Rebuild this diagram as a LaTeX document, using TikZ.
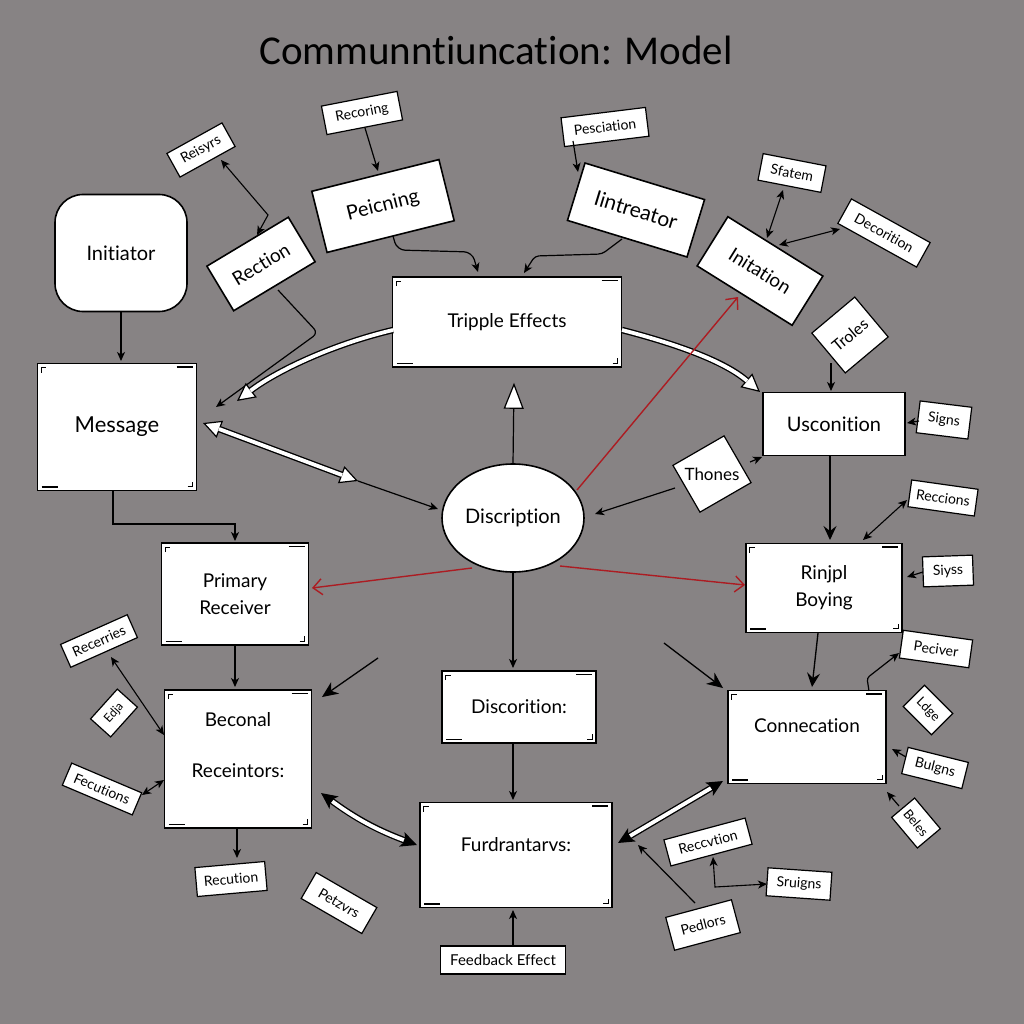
\documentclass[tikz,border=0pt]{standalone}
\usepackage{fontspec}
\setmainfont[Ligatures=NoCommon]{Lato}
\newfontfamily\titlef[Ligatures=NoCommon]{Carlito}
\usetikzlibrary{arrows.meta,shapes.geometric,calc}
\definecolor{bg}{RGB}{135,131,132}
\definecolor{redc}{RGB}{172,28,34}
\tikzset{
  wtip/.tip={Triangle[length=18pt,width=18pt,fill=white,line width=1.2pt]},
  btip/.tip={Stealth[length=16pt,width=15pt,inset=4pt]},
  stip/.tip={Stealth[length=9pt,width=8pt,inset=2.5pt]},
  rtip/.tip={Straight Barb[length=9pt,width=16pt,line width=1.4pt]},
  box/.style={draw=black, fill=white, line width=1.6pt, inner sep=0pt, align=center,
    font=\fontsize{20}{24}\selectfont},
  marks/.style={path picture={
    \draw[line width=1.6pt] ([xshift=-20pt,yshift=-3.5pt]path picture bounding box.north east) -- ++(16pt,0);
    \draw[line width=1.4pt] ([xshift=4pt,yshift=3.5pt]path picture bounding box.south west) -- ++(16pt,0);
    \draw[line width=0.8pt] ([xshift=3.5pt,yshift=-9pt]path picture bounding box.north west) -- ++(0,5pt) -- ++(5pt,0);
    \draw[line width=0.8pt] ([xshift=-9pt,yshift=4pt]path picture bounding box.south east) -- ++(5pt,0) -- ++(0,5pt);}},
  lbl/.style={draw=black, fill=white, line width=1.2pt, inner sep=0pt,
    font=\fontsize{14}{16}\selectfont},
  arr/.style={line width=1.2pt, -stip},
  darr/.style={line width=1.1pt, stip-stip},
  redarr/.style={draw=redc, line width=1.4pt, -rtip},
  holo/.style={line width=6.5pt, black},
  holi/.style={line width=3.8pt, white},
}
\begin{document}
\begin{tikzpicture}[x=1pt,y=-1pt]
\useasboundingbox[fill=bg] (0,0) rectangle (1024,1024);

\node (title) at (496,50) {\titlef\fontsize{41}{45}\selectfont Communntiuncation: Model};

% main boxes
\node[box, rounded corners=28pt, minimum width=132pt, minimum height=117pt] (init) at (121,253) {Initiator};
\node[box, marks, minimum width=159pt, minimum height=127pt, font=\fontsize{22}{26}\selectfont] (msg) at (117,427) {Message};
\node[box, marks, minimum width=229pt, minimum height=90pt, font=\fontsize{19}{23}\selectfont] (trip) at (507,322) {Tripple Effects};
\node[box, rotate=14, minimum width=131pt, minimum height=63pt] (peic) at (383,206) {Peicning};
\node[box, rotate=31, minimum width=95pt, minimum height=52pt, font=\fontsize{19}{23}\selectfont] (rect) at (261,264) {Rection};
\node[box, rotate=-17, minimum width=125pt, minimum height=60pt, font=\fontsize{21}{25}\selectfont] (intr) at (636,210) {Iintreator};
\node[box, rotate=-32, minimum width=112pt, minimum height=58pt, font=\fontsize{19}{23}\selectfont] (inita) at (760,271) {Initation};
\node[box, minimum width=142pt, minimum height=63pt] (usc) at (834,424) {Usconition};
\node[box, ellipse, minimum width=142pt, minimum height=108pt, font=\fontsize{20}{24}\selectfont] (disc) at (513,518) {Discription};
\node[box, marks, minimum width=156pt, minimum height=89pt, font=\fontsize{19}{27}\selectfont] (rinj) at (824,588) {Rinjpl\\Boying};
\node[box, marks, minimum width=147pt, minimum height=102pt, font=\fontsize{19}{27}\selectfont] (prim) at (235,594) {Primary\\Receiver};
\node[box, marks, minimum width=154pt, minimum height=72pt, font=\fontsize{19}{23}\selectfont] (disco) at (519,707) {Discorition:};
\node[box, marks, minimum width=147pt, minimum height=138pt,
  label={[yshift=14pt, align=center, font=\fontsize{19}{23}\selectfont]center:Beconal\\[28pt]Receintors:}] (becon) at (238,759) {};
\node[box, marks, minimum width=158pt, minimum height=93pt,
  label={[yshift=11pt, font=\fontsize{19}{23}\selectfont]center:Connecation}] (conn) at (807,737) {};
\node[box, marks, minimum width=192pt, minimum height=105pt,
  label={[yshift=10pt, font=\fontsize{19}{23}\selectfont]center:Furdrantarvs:}] (furd) at (516,855) {};

% small labels
\node[lbl, rotate=11, minimum width=77pt, minimum height=29pt] (recor) at (362,113) {Recoring};
\node[lbl, rotate=29, minimum width=63pt, minimum height=27pt] (reis) at (201,150) {Reisyrs};
\node[lbl, rotate=7, minimum width=85pt, minimum height=29pt] (pesc) at (605,127) {Pesciation};
\node[lbl, rotate=-11, minimum width=64pt, minimum height=27pt] (sfat) at (792,173) {Sfatem};
\node[lbl, rotate=-29, minimum width=90pt, minimum height=28pt] (deco) at (884,233) {Decorition};
\node[lbl, rotate=40, minimum width=56pt, minimum height=52pt, font=\fontsize{16}{18}\selectfont] (trol) at (850,335) {Troles};
\node[lbl, rotate=-7, minimum width=52pt, minimum height=32pt] (signs) at (944,420) {Signs};
\node[lbl, rotate=30, minimum width=59pt, minimum height=54pt, font=\fontsize{17}{19}\selectfont] (thon) at (712,474) {\rotatebox{-30}{Thones}};
\node[lbl, rotate=-8, minimum width=67pt, minimum height=27pt] (recc) at (943,498) {Reccions};
\node[lbl, rotate=2, minimum width=50pt, minimum height=30pt] (siyss) at (948,571) {Siyss};
\node[lbl, rotate=24, minimum width=73pt, minimum height=25pt] (recer) at (99,641) {Recerries};
\node[lbl, rotate=48, minimum width=40pt, minimum height=27pt, font=\fontsize{12}{14}\selectfont] (edja) at (114,713) {Edja};
\node[lbl, rotate=-23, minimum width=76pt, minimum height=24pt] (fecu) at (102,789) {Fecutions};
\node[lbl, rotate=5, minimum width=70pt, minimum height=29pt] (recu) at (231,879) {Recution};
\node[lbl, rotate=-30, minimum width=70pt, minimum height=30pt] (petz) at (339,903) {Petzvrs};
\node[lbl, minimum width=125pt, minimum height=28pt, font=\fontsize{15}{17}\selectfont] (feed) at (503,960) {Feedback Effect};
\node[lbl, rotate=-8, minimum width=70pt, minimum height=28pt] (pecv) at (936,649) {Peciver};
\node[lbl, rotate=-45, minimum width=40pt, minimum height=30pt, font=\fontsize{13}{15}\selectfont] (ldge) at (928,710) {Ldge};
\node[lbl, rotate=-14, minimum width=62pt, minimum height=27pt] (bulg) at (935,768) {Bulgns};
\node[lbl, rotate=-50, minimum width=40pt, minimum height=30pt, font=\fontsize{13}{15}\selectfont] (bele) at (916,823) {Beles};
\node[lbl, rotate=15, minimum width=84pt, minimum height=27pt] (recv) at (708,842) {Reccvtion};
\node[lbl, rotate=-4, minimum width=64pt, minimum height=28pt] (srui) at (799,884) {Sruigns};
\node[lbl, rotate=15, minimum width=68pt, minimum height=34pt] (pedl) at (703,925) {Pedlors};

\coordinate (m1) at ($(disc)+(-155,-37)$);
\coordinate (up1) at ($(trip.south)+(7,15)$);

% black arrows
\draw[arr] ($(init)+(0,59)$) -- ($(msg)+(4,-66)$);
\draw[arr] ($(recor)+(3,15)$) -- ($(peic)+(-5,-35)$);
\draw[darr] ($(reis)+(20,10)$) -- ($(rect)+(7,-49)$) -- ($(rect)+(-4,-29)$);
\draw[arr, rounded corners=6pt] ($(rect)+(17,26)$) -- ($(rect)+(57,69)$) -- ($(msg)+(99,-20)$);
\draw[arr] (m1) -- ($(disc)+(-75,-9)$);
\draw[line width=1.2pt, -{Triangle[length=26pt,width=20pt,fill=white,line width=1.2pt]}] ($(disc)+(0,-54)$) -- (up1);
\draw[arr, rounded corners=8pt] ($(peic)+(10,30)$) -- ($(trip)+(-110,-72)$) -- ($(trip)+(-35,-70)$) -- ($(trip)+(-29,-50)$);
\draw[arr, rounded corners=4pt] ($(intr)+(-14,29)$) -- ($(trip)+(95,-68)$) -- ($(trip)+(28,-66)$) -- ($(trip)+(17,-49)$);
\draw[arr] ($(pesc)+(-32,14)$) -- ($(intr)+(-58,-38)$);
\draw[darr] ($(sfat)+(-9,17)$) -- ($(inita)+(7,-33)$);
\draw[darr] ($(deco)+(-44,-4)$) -- ($(inita)+(19,-26)$);
\draw[arr] ($(trol)+(-19,28)$) -- ($(usc)+(-3,-33)$);
\draw[arr] ($(signs)+(-25,1)$) -- ($(usc)+(73,-1)$);
\draw[arr] ($(thon)+(38,-12)$) -- ($(usc)+(-72,33)$);
\draw[arr] ($(thon)+(-37,14)$) -- ($(disc)+(82,-4)$);
\draw[line width=1.3pt, -{Stealth[length=14pt,width=13pt,inset=5pt]}] ($(usc)+(-4,32)$) -- ($(rinj)+(6,-48)$);
\draw[darr] ($(recc)+(-36,2)$) -- ($(rinj)+(39,-48)$);
\draw[arr] ($(siyss)+(-25,1)$) -- ($(rinj)+(83,-11)$);
\draw[arr] ($(msg)+(-4,63)$) |- ($(prim)+(0,-70)$) -- ($(prim)+(0,-53)$);
\draw[arr] ($(disc)+(0,54)$) -- ($(disco)+(-6,-39)$);
\draw[arr] ($(disco)+(-6,36)$) -- ($(furd)+(-3,-55)$);
\draw[arr] ($(prim)+(0,51)$) -- ($(becon)+(-3,-72)$);
\draw[line width=1.3pt, -{Stealth[length=16pt,width=14pt,inset=5pt]}] ($(becon)+(140,-101)$) -- ($(becon)+(84,-62)$);
\draw[line width=1.3pt, -{Stealth[length=16pt,width=14pt,inset=5pt]}] ($(conn)+(-143,-94)$) -- ($(conn)+(-84,-49)$);
\draw[line width=1.3pt, -{Stealth[length=14pt,width=13pt,inset=5pt]}] ($(rinj)+(-6,45)$) -- ($(conn)+(5,-50)$);
\draw[arr, rounded corners=3pt] ($(conn)+(62,-46)$) -- ($(conn)+(60,-59)$) -- ($(pecv)+(-37,4)$);
\draw[arr] ($(bulg)+(-29,-11)$) -- ($(conn)+(85,12)$);
\draw[arr] ($(bele)+(-17,-17)$) -- ($(conn)+(80,55)$);
\draw[arr] ($(pedl)+(-8,-22)$) -- ($(furd)+(122,-10)$);
\draw[darr] ($(recv)+(5,15)$) -- ($(srui)+(-84,3)$) -- ($(srui)+(-32,0)$);
\draw[arr] ($(feed)+(10,-14)$) -- ($(furd)+(-3,55)$);
\draw[darr] ($(recer)+(12,16)$) -- ($(becon)+(-74,-24)$);
\draw[darr] ($(fecu)+(40,6)$) -- ($(becon)+(-74,21)$);
\draw[arr] ($(becon)+(-1,69)$) -- ($(recu)+(6,-21)$);

% hollow arrows
\draw[holo, -wtip] ($(trip)+(-114,8)$) .. controls (330,345) and (275,372) .. ($(msg)+(120,-26)$);
\draw[holi, shorten >=17pt] ($(trip)+(-114,8)$) .. controls (330,345) and (275,372) .. ($(msg)+(120,-26)$);
\draw[holo, wtip-wtip] ($(msg)+(86,-4)$) -- (m1);
\draw[holi, shorten >=17pt, shorten <=17pt] ($(msg)+(86,-4)$) -- (m1);
\draw[holo, -wtip] ($(trip)+(115,8)$) .. controls (680,345) and (725,362) .. ($(usc)+(-74,-32)$);
\draw[holi, shorten >=17pt] ($(trip)+(115,8)$) .. controls (680,345) and (725,362) .. ($(usc)+(-74,-32)$);
\draw[holo, btip-btip] ($(becon)+(83,34)$) to[bend right=8] ($(furd)+(-99,-10)$);
\draw[holi, shorten >=14pt, shorten <=14pt] ($(becon)+(83,34)$) to[bend right=8] ($(furd)+(-99,-10)$);
\draw[holo, btip-btip] ($(furd)+(102,-12)$) -- ($(conn)+(-84,44)$);
\draw[holi, shorten >=14pt, shorten <=14pt] ($(furd)+(102,-12)$) -- ($(conn)+(-84,44)$);

% red arrows
\draw[redarr] ($(disc)+(64,-28)$) -- ($(inita)+(-22,26)$);
\draw[redarr] ($(disc)+(-41,50)$) -- ($(prim)+(77,-6)$);
\draw[redarr] ($(disc)+(47,48)$) -- ($(rinj)+(-79,-3)$);
\end{tikzpicture}
\end{document}
